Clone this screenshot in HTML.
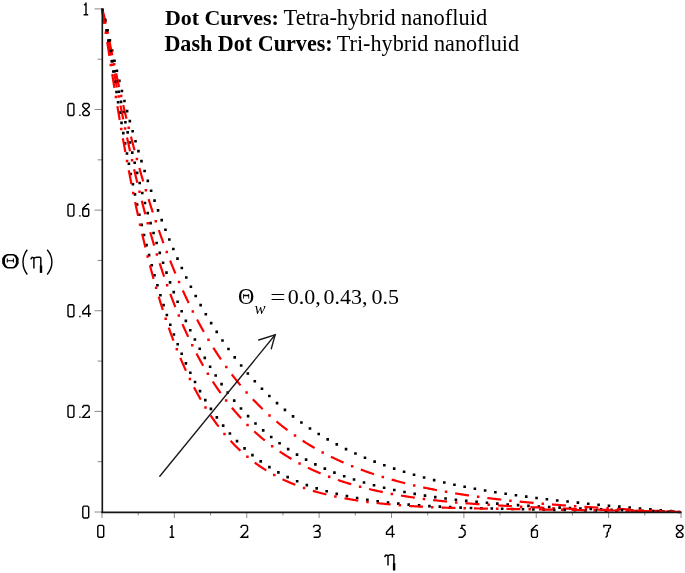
<!DOCTYPE html>
<html><head><meta charset="utf-8"><style>
html,body{margin:0;padding:0;background:#fff;}
body{width:685px;height:573px;overflow:hidden;position:relative;}
svg{position:absolute;left:0;top:0;display:block;will-change:transform;}
</style></head><body>
<svg width="685" height="573" viewBox="0 0 685 573">
<path d="M102.00,512.0V518.0M138.19,512.0V515.5M174.38,512.0V518.0M210.56,512.0V515.5M246.75,512.0V518.0M282.94,512.0V515.5M319.12,512.0V518.0M355.31,512.0V515.5M391.50,512.0V518.0M427.69,512.0V515.5M463.88,512.0V518.0M500.06,512.0V515.5M536.25,512.0V518.0M572.44,512.0V515.5M608.62,512.0V518.0M644.81,512.0V515.5M681.00,512.0V518.0M94.5,512.00H102.0M97.5,461.69H102.0M94.5,411.38H102.0M97.5,361.07H102.0M94.5,310.76H102.0M97.5,260.45H102.0M94.5,210.14H102.0M97.5,159.83H102.0M94.5,109.52H102.0M97.5,59.21H102.0M94.5,8.90H102.0" stroke="#8a8a8a" stroke-width="1" fill="none"/>
<g fill="none"><path d="M101.17,8.81h2.6v2.6h-2.6zM103.93,18.83h2.6v2.6h-2.6zM106.28,28.97h2.6v2.6h-2.6zM108.57,39.11h2.6v2.6h-2.6zM110.87,49.25h2.6v2.6h-2.6zM113.22,59.38h2.6v2.6h-2.6zM115.62,69.50h2.6v2.6h-2.6zM118.08,79.61h2.6v2.6h-2.6zM120.60,89.70h2.6v2.6h-2.6zM123.18,99.77h2.6v2.6h-2.6zM125.82,109.83h2.6v2.6h-2.6zM128.54,119.87h2.6v2.6h-2.6zM131.33,129.89h2.6v2.6h-2.6zM134.20,139.88h2.6v2.6h-2.6zM137.15,149.86h2.6v2.6h-2.6zM140.18,159.81h2.6v2.6h-2.6zM143.30,169.73h2.6v2.6h-2.6zM146.52,179.62h2.6v2.6h-2.6zM149.83,189.48h2.6v2.6h-2.6zM153.25,199.30h2.6v2.6h-2.6zM156.77,209.08h2.6v2.6h-2.6zM160.41,218.83h2.6v2.6h-2.6zM164.16,228.52h2.6v2.6h-2.6zM168.04,238.17h2.6v2.6h-2.6zM172.06,247.77h2.6v2.6h-2.6zM176.21,257.30h2.6v2.6h-2.6zM180.51,266.77h2.6v2.6h-2.6zM184.97,276.17h2.6v2.6h-2.6zM189.59,285.48h2.6v2.6h-2.6zM194.38,294.72h2.6v2.6h-2.6zM199.35,303.85h2.6v2.6h-2.6zM204.50,312.88h2.6v2.6h-2.6zM209.86,321.80h2.6v2.6h-2.6zM215.42,330.59h2.6v2.6h-2.6zM221.19,339.24h2.6v2.6h-2.6zM227.18,347.74h2.6v2.6h-2.6zM233.40,356.08h2.6v2.6h-2.6zM239.85,364.23h2.6v2.6h-2.6zM246.54,372.19h2.6v2.6h-2.6zM253.48,379.94h2.6v2.6h-2.6zM260.65,387.47h2.6v2.6h-2.6zM268.07,394.75h2.6v2.6h-2.6zM275.74,401.79h2.6v2.6h-2.6zM283.63,408.55h2.6v2.6h-2.6zM291.76,415.04h2.6v2.6h-2.6zM300.11,421.24h2.6v2.6h-2.6zM308.67,427.15h2.6v2.6h-2.6zM317.42,432.76h2.6v2.6h-2.6zM326.36,438.07h2.6v2.6h-2.6zM335.47,443.09h2.6v2.6h-2.6zM344.74,447.82h2.6v2.6h-2.6zM354.14,452.26h2.6v2.6h-2.6zM363.67,456.42h2.6v2.6h-2.6zM373.31,460.31h2.6v2.6h-2.6zM383.05,463.95h2.6v2.6h-2.6zM392.88,467.35h2.6v2.6h-2.6zM402.79,470.52h2.6v2.6h-2.6zM412.76,473.47h2.6v2.6h-2.6zM422.79,476.22h2.6v2.6h-2.6zM432.87,478.78h2.6v2.6h-2.6zM442.99,481.16h2.6v2.6h-2.6zM453.15,483.38h2.6v2.6h-2.6zM463.35,485.45h2.6v2.6h-2.6zM473.57,487.39h2.6v2.6h-2.6zM483.81,489.19h2.6v2.6h-2.6zM494.07,490.88h2.6v2.6h-2.6zM504.35,492.47h2.6v2.6h-2.6zM514.64,493.95h2.6v2.6h-2.6zM524.95,495.36h2.6v2.6h-2.6zM535.26,496.68h2.6v2.6h-2.6zM545.59,497.93h2.6v2.6h-2.6zM555.92,499.13h2.6v2.6h-2.6zM566.25,500.26h2.6v2.6h-2.6zM576.60,501.35h2.6v2.6h-2.6zM586.94,502.40h2.6v2.6h-2.6zM597.30,503.41h2.6v2.6h-2.6zM607.65,504.39h2.6v2.6h-2.6zM618.01,505.34h2.6v2.6h-2.6zM628.36,506.27h2.6v2.6h-2.6zM638.72,507.19h2.6v2.6h-2.6zM649.08,508.09h2.6v2.6h-2.6zM659.45,508.98h2.6v2.6h-2.6zM669.81,509.86h2.6v2.6h-2.6z" fill="#000" stroke="none"/><path d="M102.00,8.90 L102.37,9.83 L102.70,10.77 L102.99,11.73 L103.27,12.69 L103.53,13.66 L103.78,14.62 L104.02,15.59 L104.25,16.57 L104.48,17.54 L104.71,18.51 L104.93,19.49 L105.14,20.47 L105.36,21.44 L105.57,22.42 L105.78,23.40M109.50,41.52 L109.70,42.50 L109.90,43.48 L110.10,44.46 L110.30,45.44 L110.50,46.42 L110.70,47.40 L110.90,48.38 L111.10,49.36 L111.30,50.34 L111.50,51.32 L111.70,52.30 L111.90,53.28 L112.11,54.26 L112.31,55.24M116.13,73.34 L116.34,74.31 L116.55,75.29 L116.76,76.27 L116.98,77.25 L117.19,78.22 L117.40,79.20 L117.62,80.18 L117.83,81.15 L118.05,82.13 L118.26,83.11 L118.48,84.08 L118.69,85.06 L118.91,86.04 L119.13,87.01M123.24,105.05 L123.47,106.02 L123.70,107.00 L123.93,107.97 L124.16,108.94 L124.39,109.91 L124.62,110.89 L124.85,111.86 L125.08,112.83 L125.32,113.81 L125.55,114.78 L125.78,115.75 L126.02,116.72 L126.25,117.70 L126.49,118.67M130.96,136.62 L131.20,137.59 L131.45,138.56 L131.70,139.53 L131.95,140.49 L132.20,141.46 L132.45,142.43 L132.70,143.40 L132.96,144.36 L133.21,145.33 L133.46,146.30 L133.72,147.27 L133.97,148.23 L134.23,149.20 L134.49,150.17M139.36,168.01 L139.63,168.97 L139.91,169.94 L140.18,170.90 L140.45,171.86 L140.73,172.82 L141.00,173.78 L141.28,174.75 L141.55,175.71 L141.83,176.67 L142.11,177.63 L142.39,178.59 L142.67,179.55 L142.95,180.51 L143.23,181.47M148.59,199.18 L148.88,200.13 L149.18,201.08 L149.48,202.04 L149.78,202.99 L150.08,203.94 L150.39,204.90 L150.69,205.85 L151.00,206.80 L151.30,207.76 L151.61,208.71 L151.92,209.66 L152.22,210.61 L152.53,211.56 L152.84,212.51M158.77,230.04 L159.10,230.98 L159.43,231.92 L159.76,232.87 L160.10,233.81 L160.43,234.75 L160.77,235.69 L161.10,236.64 L161.44,237.58 L161.78,238.52 L162.12,239.46 L162.46,240.40 L162.80,241.34 L163.15,242.28 L163.49,243.22M170.09,260.50 L170.46,261.43 L170.83,262.36 L171.20,263.29 L171.57,264.21 L171.95,265.14 L172.32,266.07 L172.70,266.99 L173.08,267.92 L173.46,268.85 L173.84,269.77 L174.22,270.69 L174.60,271.62 L174.99,272.54 L175.37,273.46M182.77,290.42 L183.19,291.33 L183.60,292.24 L184.02,293.15 L184.44,294.05 L184.86,294.96 L185.29,295.87 L185.71,296.77 L186.13,297.68 L186.56,298.58 L186.99,299.48 L187.42,300.39 L187.85,301.29 L188.29,302.19 L188.72,303.09M197.09,319.59 L197.56,320.47 L198.03,321.36 L198.50,322.24 L198.97,323.12 L199.45,324.00 L199.93,324.87 L200.41,325.75 L200.89,326.63 L201.38,327.50 L201.86,328.38 L202.35,329.25 L202.84,330.12 L203.33,330.99 L203.83,331.86M213.33,347.73 L213.86,348.58 L214.40,349.42 L214.94,350.26 L215.48,351.11 L216.02,351.95 L216.57,352.78 L217.11,353.62 L217.66,354.46 L218.21,355.29 L218.77,356.12 L219.32,356.96 L219.88,357.79 L220.44,358.61 L221.00,359.44M231.83,374.44 L232.43,375.24 L233.04,376.03 L233.66,376.82 L234.27,377.61 L234.89,378.39 L235.51,379.18 L236.13,379.96 L236.76,380.74 L237.39,381.52 L238.02,382.30 L238.65,383.07 L239.28,383.84 L239.92,384.61 L240.56,385.38M252.85,399.21 L253.53,399.94 L254.22,400.66 L254.92,401.38 L255.61,402.10 L256.31,402.81 L257.01,403.52 L257.72,404.24 L258.42,404.94 L259.13,405.65 L259.84,406.35 L260.56,407.05 L261.27,407.75 L261.99,408.45 L262.71,409.14M276.50,421.47 L277.27,422.11 L278.04,422.74 L278.82,423.37 L279.59,424.01 L280.37,424.63 L281.15,425.26 L281.94,425.88 L282.72,426.50 L283.51,427.11 L284.30,427.73 L285.09,428.34 L285.89,428.94 L286.68,429.55 L287.48,430.15M302.67,440.71 L303.51,441.25 L304.35,441.79 L305.19,442.33 L306.04,442.86 L306.89,443.39 L307.74,443.91 L308.59,444.44 L309.45,444.95 L310.31,445.47 L311.16,445.98 L312.02,446.49 L312.89,447.00 L313.75,447.50 L314.62,448.00M330.94,456.71 L331.83,457.15 L332.73,457.59 L333.63,458.02 L334.53,458.45 L335.44,458.88 L336.34,459.31 L337.25,459.73 L338.16,460.15 L339.07,460.57 L339.98,460.98 L340.89,461.39 L341.80,461.80 L342.71,462.21 L343.63,462.61M360.78,469.55 L361.71,469.90 L362.65,470.25 L363.59,470.59 L364.53,470.93 L365.47,471.27 L366.41,471.60 L367.36,471.94 L368.30,472.27 L369.25,472.60 L370.19,472.92 L371.14,473.24 L372.08,473.57 L373.03,473.88 L373.98,474.20M391.67,479.61 L392.63,479.88 L393.60,480.15 L394.56,480.42 L395.52,480.68 L396.49,480.94 L397.45,481.20 L398.42,481.46 L399.39,481.72 L400.35,481.97 L401.32,482.22 L402.29,482.47 L403.26,482.72 L404.23,482.97 L405.20,483.21M423.22,487.39 L424.20,487.59 L425.18,487.80 L426.16,488.01 L427.14,488.21 L428.11,488.41 L429.09,488.61 L430.07,488.81 L431.05,489.01 L432.04,489.20 L433.02,489.40 L434.00,489.59 L434.98,489.78 L435.96,489.97 L436.94,490.16M455.16,493.37 L456.15,493.53 L457.14,493.69 L458.12,493.85 L459.11,494.00 L460.10,494.16 L461.09,494.31 L462.08,494.46 L463.06,494.62 L464.05,494.77 L465.04,494.92 L466.03,495.06 L467.02,495.21 L468.01,495.36 L469.00,495.50M487.33,497.99 L488.32,498.11 L489.32,498.23 L490.31,498.36 L491.30,498.48 L492.29,498.60 L493.29,498.72 L494.28,498.84 L495.27,498.96 L496.26,499.07 L497.26,499.19 L498.25,499.31 L499.24,499.42 L500.24,499.53 L501.23,499.65M519.63,501.59 L520.62,501.69 L521.62,501.79 L522.61,501.88 L523.61,501.98 L524.61,502.08 L525.60,502.17 L526.60,502.26 L527.59,502.36 L528.59,502.45 L529.58,502.54 L530.58,502.63 L531.58,502.72 L532.57,502.81 L533.57,502.90M552.00,504.46 L553.00,504.54 L554.00,504.62 L554.99,504.69 L555.99,504.77 L556.99,504.85 L557.98,504.93 L558.98,505.00 L559.98,505.08 L560.97,505.15 L561.97,505.23 L562.97,505.30 L563.97,505.37 L564.96,505.45 L565.96,505.52M584.42,506.80 L585.42,506.86 L586.41,506.93 L587.41,506.99 L588.41,507.06 L589.41,507.12 L590.40,507.19 L591.40,507.25 L592.40,507.31 L593.40,507.38 L594.40,507.44 L595.39,507.50 L596.39,507.56 L597.39,507.62 L598.39,507.68M616.86,508.77 L617.86,508.83 L618.85,508.88 L619.85,508.94 L620.85,508.99 L621.85,509.05 L622.85,509.10 L623.85,509.16 L624.84,509.21 L625.84,509.27 L626.84,509.32 L627.84,509.37 L628.84,509.43 L629.84,509.48 L630.84,509.54M649.31,510.49 L650.31,510.54 L651.31,510.59 L652.31,510.64 L653.31,510.69 L654.31,510.74 L655.30,510.79 L656.30,510.83 L657.30,510.88 L658.30,510.93 L659.30,510.98 L660.30,511.03 L661.30,511.08 L662.30,511.12 L663.29,511.17" stroke="#f00" stroke-width="2.2" fill="none"/><path d="M106.41,31.21h2.5v2.5h-2.5zM112.95,63.04h2.5v2.5h-2.5zM119.91,94.79h2.5v2.5h-2.5zM127.44,126.40h2.5v2.5h-2.5zM135.64,157.85h2.5v2.5h-2.5zM144.62,189.08h2.5v2.5h-2.5zM154.51,220.04h2.5v2.5h-2.5zM165.49,250.63h2.5v2.5h-2.5zM177.76,280.72h2.5v2.5h-2.5zM191.58,310.13h2.5v2.5h-2.5zM207.24,338.60h2.5v2.5h-2.5zM225.07,365.76h2.5v2.5h-2.5zM245.35,391.14h2.5v2.5h-2.5zM268.25,414.17h2.5v2.5h-2.5zM293.73,434.31h2.5v2.5h-2.5zM321.46,451.24h2.5v2.5h-2.5zM350.91,464.95h2.5v2.5h-2.5zM381.55,475.75h2.5v2.5h-2.5zM412.94,484.13h2.5v2.5h-2.5zM444.79,490.57h2.5v2.5h-2.5zM476.91,495.54h2.5v2.5h-2.5zM509.18,499.40h2.5v2.5h-2.5zM541.53,502.46h2.5v2.5h-2.5zM573.94,504.93h2.5v2.5h-2.5zM606.37,506.99h2.5v2.5h-2.5zM638.82,508.77h2.5v2.5h-2.5zM671.28,510.36h2.5v2.5h-2.5z" fill="#f00" stroke="none"/><path d="M100.97,8.87h2.6v2.6h-2.6zM103.08,19.06h2.6v2.6h-2.6zM105.16,29.24h2.6v2.6h-2.6zM107.22,39.44h2.6v2.6h-2.6zM109.28,49.63h2.6v2.6h-2.6zM111.33,59.83h2.6v2.6h-2.6zM113.40,70.02h2.6v2.6h-2.6zM115.48,80.21h2.6v2.6h-2.6zM117.59,90.40h2.6v2.6h-2.6zM119.72,100.57h2.6v2.6h-2.6zM121.88,110.75h2.6v2.6h-2.6zM124.09,120.91h2.6v2.6h-2.6zM126.33,131.06h2.6v2.6h-2.6zM128.63,141.21h2.6v2.6h-2.6zM130.97,151.34h2.6v2.6h-2.6zM133.38,161.46h2.6v2.6h-2.6zM135.84,171.56h2.6v2.6h-2.6zM138.38,181.65h2.6v2.6h-2.6zM140.98,191.72h2.6v2.6h-2.6zM143.67,201.76h2.6v2.6h-2.6zM146.44,211.79h2.6v2.6h-2.6zM149.29,221.79h2.6v2.6h-2.6zM152.25,231.76h2.6v2.6h-2.6zM155.31,241.70h2.6v2.6h-2.6zM158.48,251.60h2.6v2.6h-2.6zM161.77,261.47h2.6v2.6h-2.6zM165.19,271.29h2.6v2.6h-2.6zM168.75,281.06h2.6v2.6h-2.6zM172.45,290.78h2.6v2.6h-2.6zM176.31,300.44h2.6v2.6h-2.6zM180.35,310.02h2.6v2.6h-2.6zM184.56,319.53h2.6v2.6h-2.6zM188.97,328.95h2.6v2.6h-2.6zM193.58,338.27h2.6v2.6h-2.6zM198.42,347.48h2.6v2.6h-2.6zM203.49,356.56h2.6v2.6h-2.6zM208.82,365.49h2.6v2.6h-2.6zM214.41,374.26h2.6v2.6h-2.6zM220.28,382.84h2.6v2.6h-2.6zM226.44,391.22h2.6v2.6h-2.6zM232.91,399.37h2.6v2.6h-2.6zM239.68,407.25h2.6v2.6h-2.6zM246.78,414.86h2.6v2.6h-2.6zM254.19,422.15h2.6v2.6h-2.6zM261.91,429.11h2.6v2.6h-2.6zM269.94,435.72h2.6v2.6h-2.6zM278.26,441.96h2.6v2.6h-2.6zM286.86,447.81h2.6v2.6h-2.6zM295.71,453.28h2.6v2.6h-2.6zM304.79,458.35h2.6v2.6h-2.6zM314.07,463.04h2.6v2.6h-2.6zM323.53,467.36h2.6v2.6h-2.6zM333.14,471.32h2.6v2.6h-2.6zM342.89,474.94h2.6v2.6h-2.6zM352.75,478.25h2.6v2.6h-2.6zM362.71,481.25h2.6v2.6h-2.6zM372.74,483.99h2.6v2.6h-2.6zM382.84,486.47h2.6v2.6h-2.6zM392.99,488.73h2.6v2.6h-2.6zM403.19,490.77h2.6v2.6h-2.6zM413.42,492.62h2.6v2.6h-2.6zM423.69,494.29h2.6v2.6h-2.6zM433.98,495.80h2.6v2.6h-2.6zM444.29,497.17h2.6v2.6h-2.6zM454.61,498.41h2.6v2.6h-2.6zM464.95,499.53h2.6v2.6h-2.6zM475.30,500.56h2.6v2.6h-2.6zM485.66,501.50h2.6v2.6h-2.6zM496.02,502.35h2.6v2.6h-2.6zM506.39,503.14h2.6v2.6h-2.6zM516.77,503.86h2.6v2.6h-2.6zM527.15,504.53h2.6v2.6h-2.6zM537.53,505.16h2.6v2.6h-2.6zM547.91,505.74h2.6v2.6h-2.6zM558.30,506.28h2.6v2.6h-2.6zM568.69,506.78h2.6v2.6h-2.6zM579.08,507.25h2.6v2.6h-2.6zM589.47,507.69h2.6v2.6h-2.6zM599.86,508.10h2.6v2.6h-2.6zM610.25,508.49h2.6v2.6h-2.6zM620.64,508.87h2.6v2.6h-2.6zM631.04,509.22h2.6v2.6h-2.6zM641.43,509.56h2.6v2.6h-2.6zM651.83,509.88h2.6v2.6h-2.6zM662.22,510.20h2.6v2.6h-2.6zM672.62,510.50h2.6v2.6h-2.6z" fill="#000" stroke="none"/><path d="M102.00,8.90 L102.19,9.88 L102.38,10.86 L102.57,11.85 L102.76,12.83 L102.95,13.81 L103.14,14.79 L103.32,15.77 L103.51,16.76 L103.70,17.74 L103.89,18.72 L104.07,19.70 L104.26,20.69 L104.45,21.67 L104.63,22.65 L104.82,23.63M108.24,41.81 L108.43,42.80 L108.61,43.78 L108.80,44.76 L108.98,45.74 L109.17,46.73 L109.35,47.71 L109.53,48.69 L109.72,49.68 L109.90,50.66 L110.09,51.64 L110.27,52.62 L110.46,53.61 L110.64,54.59 L110.83,55.57M114.27,73.75 L114.46,74.73 L114.65,75.71 L114.83,76.70 L115.02,77.68 L115.21,78.66 L115.40,79.64 L115.59,80.62 L115.78,81.61 L115.97,82.59 L116.16,83.57 L116.35,84.55 L116.54,85.53 L116.73,86.52 L116.92,87.50M120.49,105.65 L120.69,106.63 L120.88,107.61 L121.08,108.59 L121.28,109.57 L121.48,110.55 L121.67,111.53 L121.87,112.51 L122.07,113.49 L122.27,114.47 L122.47,115.45 L122.67,116.43 L122.87,117.41 L123.07,118.39 L123.27,119.37M127.06,137.48 L127.27,138.46 L127.48,139.43 L127.69,140.41 L127.90,141.39 L128.11,142.37 L128.32,143.34 L128.53,144.32 L128.75,145.30 L128.96,146.27 L129.17,147.25 L129.39,148.23 L129.60,149.21 L129.81,150.18 L130.03,151.16M134.11,169.20 L134.34,170.18 L134.56,171.15 L134.79,172.12 L135.02,173.10 L135.25,174.07 L135.48,175.05 L135.71,176.02 L135.94,176.99 L136.17,177.96 L136.40,178.94 L136.63,179.91 L136.86,180.88 L137.10,181.86 L137.33,182.83M141.78,200.78 L142.03,201.75 L142.28,202.72 L142.53,203.69 L142.78,204.66 L143.03,205.63 L143.28,206.59 L143.53,207.56 L143.79,208.53 L144.04,209.50 L144.29,210.46 L144.55,211.43 L144.81,212.40 L145.06,213.36 L145.32,214.33M150.24,232.16 L150.51,233.12 L150.79,234.09 L151.07,235.05 L151.34,236.01 L151.62,236.97 L151.90,237.93 L152.18,238.89 L152.46,239.85 L152.74,240.81 L153.03,241.77 L153.31,242.73 L153.59,243.68 L153.88,244.64 L154.17,245.60M159.66,263.26 L159.97,264.22 L160.28,265.17 L160.59,266.12 L160.90,267.07 L161.21,268.02 L161.53,268.97 L161.84,269.92 L162.16,270.87 L162.48,271.81 L162.79,272.76 L163.11,273.71 L163.44,274.66 L163.76,275.60 L164.08,276.55M170.30,293.97 L170.65,294.91 L171.00,295.85 L171.35,296.78 L171.70,297.72 L172.06,298.65 L172.41,299.59 L172.77,300.52 L173.13,301.45 L173.49,302.39 L173.85,303.32 L174.22,304.25 L174.58,305.18 L174.95,306.11 L175.32,307.04M182.43,324.12 L182.83,325.03 L183.23,325.95 L183.64,326.86 L184.05,327.78 L184.45,328.69 L184.86,329.60 L185.28,330.51 L185.69,331.42 L186.11,332.33 L186.52,333.24 L186.94,334.15 L187.36,335.06 L187.79,335.96 L188.21,336.87M196.44,353.44 L196.91,354.32 L197.38,355.20 L197.85,356.09 L198.32,356.97 L198.79,357.85 L199.27,358.73 L199.75,359.61 L200.23,360.48 L200.71,361.36 L201.20,362.23 L201.69,363.10 L202.18,363.98 L202.67,364.85 L203.17,365.71M212.78,381.52 L213.33,382.36 L213.87,383.19 L214.42,384.03 L214.98,384.86 L215.53,385.69 L216.09,386.52 L216.65,387.35 L217.21,388.18 L217.78,389.00 L218.35,389.82 L218.92,390.64 L219.50,391.46 L220.08,392.28 L220.66,393.09M231.92,407.76 L232.56,408.53 L233.20,409.30 L233.84,410.06 L234.49,410.83 L235.14,411.59 L235.79,412.34 L236.45,413.10 L237.11,413.85 L237.77,414.60 L238.44,415.35 L239.10,416.09 L239.78,416.83 L240.45,417.57 L241.13,418.31M254.22,431.37 L254.96,432.04 L255.70,432.72 L256.44,433.38 L257.19,434.05 L257.94,434.71 L258.69,435.37 L259.45,436.02 L260.21,436.68 L260.97,437.32 L261.73,437.97 L262.50,438.61 L263.27,439.25 L264.04,439.88 L264.82,440.51M279.69,451.51 L280.52,452.07 L281.35,452.62 L282.19,453.17 L283.02,453.72 L283.86,454.26 L284.71,454.80 L285.55,455.33 L286.40,455.87 L287.25,456.39 L288.10,456.92 L288.95,457.44 L289.81,457.95 L290.67,458.46 L291.53,458.97M307.85,467.68 L308.75,468.12 L309.65,468.55 L310.55,468.98 L311.46,469.40 L312.37,469.82 L313.28,470.24 L314.19,470.65 L315.10,471.06 L316.01,471.46 L316.93,471.86 L317.85,472.26 L318.77,472.66 L319.69,473.05 L320.61,473.44M337.90,480.00 L338.85,480.32 L339.80,480.64 L340.74,480.96 L341.69,481.27 L342.64,481.58 L343.60,481.89 L344.55,482.19 L345.50,482.50 L346.46,482.79 L347.41,483.09 L348.37,483.38 L349.32,483.67 L350.28,483.96 L351.24,484.25M369.11,489.03 L370.08,489.27 L371.05,489.50 L372.03,489.73 L373.00,489.96 L373.97,490.18 L374.95,490.40 L375.92,490.62 L376.90,490.84 L377.88,491.06 L378.85,491.27 L379.83,491.48 L380.81,491.69 L381.79,491.90 L382.77,492.11M400.94,495.54 L401.93,495.71 L402.92,495.87 L403.90,496.03 L404.89,496.19 L405.88,496.35 L406.86,496.51 L407.85,496.66 L408.84,496.82 L409.83,496.97 L410.82,497.12 L411.81,497.27 L412.80,497.41 L413.79,497.56 L414.78,497.70M433.12,500.07 L434.12,500.19 L435.11,500.30 L436.10,500.41 L437.10,500.52 L438.09,500.63 L439.08,500.74 L440.08,500.85 L441.07,500.95 L442.07,501.06 L443.06,501.16 L444.06,501.26 L445.05,501.36 L446.05,501.46 L447.04,501.56M465.47,503.20 L466.47,503.28 L467.46,503.36 L468.46,503.44 L469.46,503.52 L470.45,503.59 L471.45,503.67 L472.45,503.74 L473.45,503.82 L474.44,503.89 L475.44,503.97 L476.44,504.04 L477.43,504.11 L478.43,504.18 L479.43,504.25M497.89,505.43 L498.89,505.49 L499.89,505.54 L500.89,505.60 L501.89,505.66 L502.88,505.72 L503.88,505.77 L504.88,505.83 L505.88,505.88 L506.88,505.94 L507.88,505.99 L508.87,506.05 L509.87,506.10 L510.87,506.15 L511.87,506.21M530.35,507.13 L531.35,507.18 L532.35,507.23 L533.34,507.27 L534.34,507.32 L535.34,507.37 L536.34,507.41 L537.34,507.46 L538.34,507.50 L539.34,507.55 L540.34,507.59 L541.34,507.64 L542.33,507.68 L543.33,507.73 L544.33,507.77M562.82,508.52 L563.82,508.56 L564.82,508.60 L565.82,508.64 L566.81,508.67 L567.81,508.71 L568.81,508.75 L569.81,508.78 L570.81,508.82 L571.81,508.85 L572.81,508.89 L573.81,508.93 L574.81,508.96 L575.81,509.00 L576.81,509.03M595.30,509.64 L596.30,509.67 L597.30,509.70 L598.30,509.73 L599.30,509.76 L600.30,509.79 L601.30,509.82 L602.29,509.85 L603.29,509.88 L604.29,509.91 L605.29,509.94 L606.29,509.97 L607.29,510.00 L608.29,510.03 L609.29,510.06M627.78,510.59 L628.78,510.61 L629.78,510.64 L630.78,510.67 L631.78,510.70 L632.78,510.72 L633.78,510.75 L634.78,510.78 L635.78,510.80 L636.78,510.83 L637.78,510.86 L638.78,510.89 L639.78,510.91 L640.78,510.94 L641.78,510.97M660.27,511.45 L661.27,511.48 L662.27,511.51 L663.27,511.53 L664.27,511.56 L665.27,511.59 L666.27,511.61 L667.27,511.64 L668.27,511.66 L669.27,511.69 L670.27,511.72 L671.27,511.74 L672.27,511.77 L673.27,511.80 L674.27,511.82" stroke="#f00" stroke-width="2.2" fill="none"/><path d="M105.29,31.47h2.5v2.5h-2.5zM111.29,63.41h2.5v2.5h-2.5zM117.44,95.32h2.5v2.5h-2.5zM123.90,127.18h2.5v2.5h-2.5zM130.80,158.94h2.5v2.5h-2.5zM138.28,190.56h2.5v2.5h-2.5zM146.49,222.01h2.5v2.5h-2.5zM155.62,253.20h2.5v2.5h-2.5zM165.88,284.03h2.5v2.5h-2.5zM177.55,314.36h2.5v2.5h-2.5zM190.99,343.95h2.5v2.5h-2.5zM206.62,372.43h2.5v2.5h-2.5zM224.91,399.27h2.5v2.5h-2.5zM246.29,423.72h2.5v2.5h-2.5zM270.89,444.92h2.5v2.5h-2.5zM298.35,462.24h2.5v2.5h-2.5zM327.95,475.61h2.5v2.5h-2.5zM358.89,485.50h2.5v2.5h-2.5zM390.59,492.66h2.5v2.5h-2.5zM422.69,497.70h2.5v2.5h-2.5zM455.00,501.17h2.5v2.5h-2.5zM487.41,503.61h2.5v2.5h-2.5zM519.86,505.43h2.5v2.5h-2.5zM552.32,506.91h2.5v2.5h-2.5zM584.80,508.09h2.5v2.5h-2.5zM617.29,509.08h2.5v2.5h-2.5zM649.78,509.96h2.5v2.5h-2.5z" fill="#f00" stroke="none"/><path d="M101.25,8.77h2.6v2.6h-2.6zM103.76,18.86h2.6v2.6h-2.6zM105.59,29.09h2.6v2.6h-2.6zM107.24,39.36h2.6v2.6h-2.6zM108.83,49.64h2.6v2.6h-2.6zM110.41,59.92h2.6v2.6h-2.6zM111.98,70.20h2.6v2.6h-2.6zM113.57,80.48h2.6v2.6h-2.6zM115.18,90.75h2.6v2.6h-2.6zM116.82,101.02h2.6v2.6h-2.6zM118.51,111.29h2.6v2.6h-2.6zM120.23,121.54h2.6v2.6h-2.6zM121.99,131.79h2.6v2.6h-2.6zM123.80,142.03h2.6v2.6h-2.6zM125.66,152.26h2.6v2.6h-2.6zM127.58,162.49h2.6v2.6h-2.6zM129.55,172.70h2.6v2.6h-2.6zM131.58,182.90h2.6v2.6h-2.6zM133.67,193.09h2.6v2.6h-2.6zM135.83,203.26h2.6v2.6h-2.6zM138.06,213.42h2.6v2.6h-2.6zM140.37,223.56h2.6v2.6h-2.6zM142.76,233.68h2.6v2.6h-2.6zM145.23,243.78h2.6v2.6h-2.6zM147.80,253.86h2.6v2.6h-2.6zM150.46,263.91h2.6v2.6h-2.6zM153.23,273.94h2.6v2.6h-2.6zM156.12,283.93h2.6v2.6h-2.6zM159.12,293.88h2.6v2.6h-2.6zM162.26,303.80h2.6v2.6h-2.6zM165.55,313.67h2.6v2.6h-2.6zM168.99,323.48h2.6v2.6h-2.6zM172.60,333.23h2.6v2.6h-2.6zM176.39,342.92h2.6v2.6h-2.6zM180.38,352.52h2.6v2.6h-2.6zM184.58,362.03h2.6v2.6h-2.6zM189.03,371.44h2.6v2.6h-2.6zM193.73,380.71h2.6v2.6h-2.6zM198.71,389.84h2.6v2.6h-2.6zM203.99,398.80h2.6v2.6h-2.6zM209.60,407.56h2.6v2.6h-2.6zM215.55,416.08h2.6v2.6h-2.6zM221.88,424.33h2.6v2.6h-2.6zM228.60,432.27h2.6v2.6h-2.6zM235.72,439.86h2.6v2.6h-2.6zM243.24,447.04h2.6v2.6h-2.6zM251.15,453.78h2.6v2.6h-2.6zM259.45,460.04h2.6v2.6h-2.6zM268.11,465.80h2.6v2.6h-2.6zM277.09,471.05h2.6v2.6h-2.6zM286.35,475.78h2.6v2.6h-2.6zM295.84,480.02h2.6v2.6h-2.6zM305.54,483.78h2.6v2.6h-2.6zM315.39,487.10h2.6v2.6h-2.6zM325.37,490.02h2.6v2.6h-2.6zM335.45,492.58h2.6v2.6h-2.6zM345.61,494.81h2.6v2.6h-2.6zM355.83,496.76h2.6v2.6h-2.6zM366.09,498.46h2.6v2.6h-2.6zM376.38,499.93h2.6v2.6h-2.6zM386.70,501.22h2.6v2.6h-2.6zM397.04,502.34h2.6v2.6h-2.6zM407.40,503.29h2.6v2.6h-2.6zM417.77,504.10h2.6v2.6h-2.6zM428.14,504.79h2.6v2.6h-2.6zM438.53,505.37h2.6v2.6h-2.6zM448.92,505.87h2.6v2.6h-2.6zM459.31,506.30h2.6v2.6h-2.6zM469.70,506.66h2.6v2.6h-2.6zM480.10,506.98h2.6v2.6h-2.6zM490.49,507.25h2.6v2.6h-2.6zM500.89,507.50h2.6v2.6h-2.6zM511.29,507.73h2.6v2.6h-2.6zM521.68,507.95h2.6v2.6h-2.6zM532.08,508.16h2.6v2.6h-2.6zM542.48,508.37h2.6v2.6h-2.6zM552.88,508.57h2.6v2.6h-2.6zM563.28,508.75h2.6v2.6h-2.6zM573.67,508.92h2.6v2.6h-2.6zM584.07,509.09h2.6v2.6h-2.6zM594.47,509.25h2.6v2.6h-2.6zM604.87,509.40h2.6v2.6h-2.6zM615.27,509.56h2.6v2.6h-2.6zM625.67,509.72h2.6v2.6h-2.6zM636.07,509.89h2.6v2.6h-2.6zM646.47,510.06h2.6v2.6h-2.6zM656.86,510.25h2.6v2.6h-2.6zM667.26,510.44h2.6v2.6h-2.6zM677.66,510.66h2.6v2.6h-2.6z" fill="#000" stroke="none"/><path d="M102.00,8.90 L102.16,9.89 L102.32,10.87 L102.48,11.86 L102.63,12.85 L102.79,13.84 L102.95,14.82 L103.11,15.81 L103.26,16.80 L103.42,17.79 L103.57,18.78 L103.73,19.76 L103.89,20.75 L104.04,21.74 L104.20,22.73 L104.35,23.71M107.20,41.99 L107.35,42.98 L107.51,43.97 L107.66,44.96 L107.81,45.95 L107.97,46.93 L108.12,47.92 L108.27,48.91 L108.43,49.90 L108.58,50.89 L108.74,51.88 L108.89,52.86 L109.04,53.85 L109.20,54.84 L109.35,55.83M112.22,74.10 L112.37,75.09 L112.53,76.08 L112.69,77.07 L112.84,78.06 L113.00,79.04 L113.16,80.03 L113.31,81.02 L113.47,82.01 L113.63,82.99 L113.79,83.98 L113.94,84.97 L114.10,85.96 L114.26,86.94 L114.42,87.93M117.40,106.19 L117.56,107.17 L117.73,108.16 L117.89,109.15 L118.06,110.13 L118.22,111.12 L118.39,112.11 L118.55,113.09 L118.72,114.08 L118.88,115.07 L119.05,116.05 L119.21,117.04 L119.38,118.02 L119.55,119.01 L119.72,120.00M122.88,138.22 L123.05,139.21 L123.22,140.19 L123.40,141.18 L123.58,142.16 L123.75,143.15 L123.93,144.13 L124.10,145.11 L124.28,146.10 L124.46,147.08 L124.64,148.07 L124.81,149.05 L124.99,150.04 L125.17,151.02 L125.35,152.00M128.75,170.19 L128.94,171.17 L129.13,172.15 L129.32,173.13 L129.51,174.12 L129.70,175.10 L129.89,176.08 L130.08,177.06 L130.27,178.04 L130.46,179.02 L130.65,180.00 L130.85,180.99 L131.04,181.97 L131.24,182.95 L131.43,183.93M135.13,202.05 L135.34,203.03 L135.54,204.01 L135.75,204.99 L135.96,205.97 L136.17,206.95 L136.37,207.92 L136.58,208.90 L136.79,209.88 L137.00,210.86 L137.22,211.84 L137.43,212.81 L137.64,213.79 L137.85,214.77 L138.07,215.74M142.14,233.79 L142.37,234.76 L142.60,235.74 L142.83,236.71 L143.06,237.68 L143.29,238.66 L143.52,239.63 L143.75,240.60 L143.98,241.57 L144.21,242.55 L144.45,243.52 L144.68,244.49 L144.92,245.46 L145.15,246.44 L145.39,247.41M149.93,265.34 L150.19,266.31 L150.44,267.27 L150.70,268.24 L150.95,269.21 L151.21,270.17 L151.47,271.14 L151.73,272.11 L151.99,273.07 L152.25,274.04 L152.51,275.00 L152.78,275.97 L153.04,276.93 L153.31,277.89 L153.58,278.86M158.70,296.63 L158.99,297.59 L159.28,298.55 L159.57,299.51 L159.86,300.46 L160.15,301.42 L160.44,302.38 L160.74,303.33 L161.03,304.29 L161.33,305.24 L161.63,306.19 L161.93,307.15 L162.23,308.10 L162.53,309.06 L162.84,310.01M168.70,327.55 L169.04,328.50 L169.37,329.44 L169.70,330.38 L170.04,331.32 L170.38,332.27 L170.71,333.21 L171.06,334.15 L171.40,335.09 L171.74,336.02 L172.09,336.96 L172.43,337.90 L172.78,338.84 L173.13,339.78 L173.48,340.71M180.32,357.90 L180.70,358.82 L181.09,359.74 L181.49,360.67 L181.88,361.58 L182.28,362.50 L182.67,363.42 L183.07,364.34 L183.48,365.25 L183.88,366.17 L184.29,367.08 L184.69,367.99 L185.10,368.90 L185.52,369.82 L185.93,370.73M194.04,387.35 L194.50,388.24 L194.97,389.13 L195.43,390.01 L195.90,390.89 L196.38,391.77 L196.85,392.65 L197.33,393.53 L197.81,394.41 L198.30,395.28 L198.79,396.15 L199.28,397.03 L199.77,397.90 L200.26,398.76 L200.76,399.63M210.54,415.33 L211.10,416.16 L211.67,416.98 L212.24,417.81 L212.81,418.63 L213.38,419.45 L213.96,420.26 L214.54,421.08 L215.12,421.89 L215.71,422.70 L216.30,423.50 L216.90,424.31 L217.50,425.11 L218.10,425.91 L218.71,426.70M230.60,440.86 L231.28,441.60 L231.97,442.32 L232.65,443.05 L233.35,443.77 L234.04,444.49 L234.74,445.20 L235.45,445.91 L236.15,446.62 L236.87,447.32 L237.58,448.02 L238.30,448.71 L239.03,449.40 L239.75,450.09 L240.49,450.77M254.71,462.58 L255.52,463.17 L256.33,463.76 L257.14,464.34 L257.96,464.92 L258.78,465.49 L259.60,466.06 L260.43,466.63 L261.26,467.18 L262.09,467.74 L262.93,468.28 L263.77,468.83 L264.61,469.37 L265.45,469.90 L266.30,470.43M282.54,479.27 L283.45,479.70 L284.35,480.13 L285.26,480.55 L286.17,480.96 L287.08,481.37 L288.00,481.77 L288.91,482.17 L289.83,482.57 L290.75,482.96 L291.67,483.35 L292.60,483.73 L293.52,484.10 L294.45,484.47 L295.38,484.84M312.88,490.84 L313.84,491.13 L314.80,491.41 L315.76,491.68 L316.72,491.96 L317.68,492.23 L318.65,492.49 L319.61,492.75 L320.58,493.01 L321.54,493.27 L322.51,493.52 L323.48,493.77 L324.45,494.01 L325.42,494.25 L326.39,494.49M344.49,498.33 L345.47,498.51 L346.46,498.68 L347.44,498.86 L348.42,499.03 L349.41,499.20 L350.40,499.37 L351.38,499.53 L352.37,499.70 L353.36,499.86 L354.34,500.01 L355.33,500.17 L356.32,500.32 L357.31,500.48 L358.30,500.62M376.64,503.03 L377.63,503.14 L378.63,503.25 L379.62,503.36 L380.61,503.47 L381.61,503.57 L382.60,503.68 L383.60,503.78 L384.59,503.88 L385.59,503.98 L386.58,504.08 L387.58,504.18 L388.57,504.28 L389.57,504.37 L390.57,504.46M409.01,505.93 L410.00,506.00 L411.00,506.06 L412.00,506.12 L413.00,506.19 L414.00,506.25 L414.99,506.31 L415.99,506.37 L416.99,506.43 L417.99,506.48 L418.99,506.54 L419.99,506.59 L420.98,506.65 L421.98,506.70 L422.98,506.75M441.46,507.55 L442.46,507.59 L443.46,507.63 L444.46,507.66 L445.46,507.69 L446.46,507.73 L447.46,507.76 L448.46,507.79 L449.46,507.82 L450.46,507.85 L451.46,507.88 L452.46,507.91 L453.46,507.94 L454.46,507.97 L455.46,508.00M473.95,508.43 L474.95,508.45 L475.95,508.47 L476.95,508.49 L477.95,508.51 L478.95,508.52 L479.95,508.54 L480.95,508.56 L481.95,508.58 L482.95,508.60 L483.95,508.61 L484.95,508.63 L485.95,508.65 L486.95,508.66 L487.95,508.68M506.45,508.96 L507.45,508.97 L508.45,508.99 L509.45,509.00 L510.45,509.01 L511.45,509.03 L512.45,509.04 L513.45,509.06 L514.45,509.07 L515.45,509.08 L516.45,509.10 L517.45,509.11 L518.45,509.13 L519.45,509.14 L520.45,509.15M538.94,509.43 L539.94,509.45 L540.94,509.47 L541.94,509.48 L542.94,509.50 L543.94,509.51 L544.94,509.53 L545.94,509.54 L546.94,509.56 L547.94,509.57 L548.94,509.59 L549.94,509.60 L550.94,509.61 L551.94,509.63 L552.94,509.64M571.44,509.90 L572.44,509.92 L573.44,509.93 L574.44,509.94 L575.44,509.96 L576.44,509.97 L577.44,509.98 L578.44,510.00 L579.44,510.01 L580.44,510.02 L581.44,510.04 L582.44,510.05 L583.44,510.07 L584.44,510.08 L585.44,510.09M603.94,510.35 L604.94,510.37 L605.94,510.38 L606.94,510.40 L607.94,510.41 L608.94,510.43 L609.94,510.44 L610.94,510.46 L611.94,510.47 L612.94,510.49 L613.94,510.50 L614.94,510.52 L615.94,510.53 L616.94,510.55 L617.94,510.56M636.43,510.88 L637.43,510.90 L638.43,510.92 L639.43,510.94 L640.43,510.96 L641.43,510.98 L642.43,511.00 L643.43,511.02 L644.43,511.04 L645.43,511.06 L646.43,511.08 L647.43,511.10 L648.43,511.12 L649.43,511.14 L650.43,511.17M668.93,511.63 L669.93,511.66 L670.94,511.68 L671.94,511.71 L672.95,511.74 L673.96,511.77 L674.96,511.81 L675.97,511.84 L676.98,511.87 L677.98,511.90 L678.99,511.93 L679.99,511.97 L681.00,512.00" stroke="#f00" stroke-width="2.2" fill="none"/><path d="M104.53,31.60h2.5v2.5h-2.5zM109.53,63.72h2.5v2.5h-2.5zM114.65,95.81h2.5v2.5h-2.5zM120.03,127.86h2.5v2.5h-2.5zM125.78,159.85h2.5v2.5h-2.5zM132.01,191.75h2.5v2.5h-2.5zM138.82,223.52h2.5v2.5h-2.5zM146.38,255.13h2.5v2.5h-2.5zM154.84,286.51h2.5v2.5h-2.5zM164.46,317.55h2.5v2.5h-2.5zM175.57,348.09h2.5v2.5h-2.5zM188.63,377.84h2.5v2.5h-2.5zM204.27,406.31h2.5v2.5h-2.5zM223.24,432.67h2.5v2.5h-2.5zM246.19,455.62h2.5v2.5h-2.5zM273.05,473.82h2.5v2.5h-2.5zM302.82,486.77h2.5v2.5h-2.5zM334.16,495.28h2.5v2.5h-2.5zM366.21,500.66h2.5v2.5h-2.5zM398.53,504.01h2.5v2.5h-2.5zM430.97,505.94h2.5v2.5h-2.5zM463.45,506.98h2.5v2.5h-2.5zM495.95,507.57h2.5v2.5h-2.5zM528.45,508.04h2.5v2.5h-2.5zM560.94,508.52h2.5v2.5h-2.5zM593.44,508.97h2.5v2.5h-2.5zM625.94,509.47h2.5v2.5h-2.5zM658.43,510.13h2.5v2.5h-2.5z" fill="#f00" stroke="none"/></g>
<line x1="102.3" y1="8.4" x2="102.3" y2="513.1" stroke="#151515" stroke-width="1.65"/>
<line x1="101.5" y1="512.3" x2="681.6" y2="512.3" stroke="#151515" stroke-width="1.65"/>
<g fill="none" stroke="#000" stroke-width="1.4" stroke-linejoin="miter"><path transform="translate(97.8,525.4)" d="M1.1,0H4.8L5.9,1.1V10.8L4.8,11.9H1.1L0,10.8V1.1Z"/><path transform="translate(169.6,525.4)" d="M2.4,-0.4V11.9M0,11.9H4.6M0.5,2.4L2.2,0.9"/><path transform="translate(241.2,525.4)" d="M0,2.5V1.2L1.2,0H5.1L6.3,1.2V5.1L5.0,6.4L0,11.9H6.5V10.2"/><path transform="translate(313.6,525.4)" d="M0,2.1V1.2L1.2,0H5.1L6.4,1.3V3.3L4.6,5.0L3.0,5.9H5.0L6.4,7.3V10.6L5.0,11.9H0"/><path transform="translate(386.5,525.4)" d="M5.9,-0.2V12.2M5.5,0.6L0,6.8V9.0H8.3"/><path transform="translate(458.5,525.4)" d="M7.1,0H3.4V3.0M1.6,3.0H4.0L6.6,5.6V9.2L3.9,11.9H0"/><path transform="translate(531.5,525.4)" d="M6.3,0H4.5L0,4.4V10.9L1.1,12.0H4.8L5.9,10.9V5.6L4.8,4.5H2.0L0,6.0"/><path transform="translate(603.9,525.4)" d="M0,2.0V0H6.5V2.0L4.7,3.6V5.9L3.3,7.3V10.6L1.6,12.1"/><path transform="translate(676.5,525.4)" d="M1.3,0H5.1L6.4,1.2V3.0L1.5,7.6L0,9.0V10.7L1.2,11.9H5.2L6.4,10.7V9.0L4.9,7.6L0,3.0V1.2Z"/><path transform="translate(68.0,405.43)" d="M1.1,0H4.8L5.9,1.1V10.8L4.8,11.9H1.1L0,10.8V1.1Z"/><path transform="translate(82.8,405.43)" d="M0,2.5V1.2L1.2,0H5.1L6.3,1.2V5.1L5.0,6.4L0,11.9H6.5V10.2"/><path transform="translate(68.0,304.81)" d="M1.1,0H4.8L5.9,1.1V10.8L4.8,11.9H1.1L0,10.8V1.1Z"/><path transform="translate(82.8,304.81)" d="M5.9,-0.2V12.2M5.5,0.6L0,6.8V9.0H8.3"/><path transform="translate(68.0,204.18999999999994)" d="M1.1,0H4.8L5.9,1.1V10.8L4.8,11.9H1.1L0,10.8V1.1Z"/><path transform="translate(82.8,204.18999999999994)" d="M6.3,0H4.5L0,4.4V10.9L1.1,12.0H4.8L5.9,10.9V5.6L4.8,4.5H2.0L0,6.0"/><path transform="translate(68.0,103.56999999999998)" d="M1.1,0H4.8L5.9,1.1V10.8L4.8,11.9H1.1L0,10.8V1.1Z"/><path transform="translate(82.8,103.56999999999998)" d="M1.3,0H5.1L6.4,1.2V3.0L1.5,7.6L0,9.0V10.7L1.2,11.9H5.2L6.4,10.7V9.0L4.9,7.6L0,3.0V1.2Z"/><path transform="translate(82.8,506.1)" d="M1.1,0H4.8L5.9,1.1V10.8L4.8,11.9H1.1L0,10.8V1.1Z"/><path transform="translate(83.6,2.9)" d="M2.4,-0.4V11.9M0,11.9H4.6M0.5,2.4L2.2,0.9"/></g><g fill="#000"><rect x="79.20" y="416.43" width="1.4" height="1.4"/><rect x="79.20" y="315.81" width="1.4" height="1.4"/><rect x="79.20" y="215.19" width="1.4" height="1.4"/><rect x="79.20" y="114.57" width="1.4" height="1.4"/></g>
<g fill="none" stroke="#1a1a1a" stroke-width="1.35" stroke-linecap="round">
<line x1="159.8" y1="476.3" x2="275.2" y2="334.8"/>
<polyline points="258.7,340 275.2,334.8 271.3,348.8" stroke-linejoin="miter"/>
</g>
<g font-family="Liberation Serif, serif" font-size="22.3" fill="#000">
<text x="164.9" y="25.4" font-weight="bold" font-size="21.93">Dot Curves:</text>
<text x="283.6" y="25.4" font-size="22.46">Tetra-hybrid nanofluid</text>
<text x="164.4" y="50.7" font-weight="bold" font-size="22.11">Dash Dot Curves:</text>
<text x="336.8" y="50.7" font-size="22.2">Tri-hybrid nanofluid</text>
</g>
<g font-family="Liberation Serif, serif" fill="#000">
<text x="238" y="304.2" font-size="22.6">&#920;</text>
<text x="254.5" y="314.1" font-size="16.5" font-style="italic">w</text>

<path d="M271.6,294.4H284.2M271.6,299.5H284.2" stroke="#000" stroke-width="1.05"/>
<text x="287.8" y="304.2" font-size="22">0.0,</text><text x="323.5" y="304.2" font-size="22">0.43,</text><text x="371.4" y="304.2" font-size="22">0.5</text>
</g>
<!-- y-axis label Theta(eta) -->
<path fill="#000" fill-rule="evenodd" d="M7.3,253.9H13.6L16.4,255.2L18.6,258.2V263.6L16.4,266.9L13.6,268.6H7.3L4.4,266.9L2.2,263.6V258.2L4.4,255.2Z M7.7,255.6H13.2L15.0,256.9L15.9,259.0V262.9L15.0,265.2L13.2,266.9H7.7L5.9,265.2L5.0,262.9V259.0L5.9,256.9Z"/>
<g fill="none" stroke="#000">
<path d="M7.4,260.7H13.5" stroke-width="1.1"/>
<path d="M7.3,258.6V262.6M13.4,258.6V262.6" stroke-width="1.1"/>
</g>
<path fill="none" stroke="#000" stroke-width="1.4" d="M27.3,249.7C24.3,253.3 23.0,257.8 23.0,262.1C23.0,266.4 24.3,270.9 27.3,274.5"/>
<path fill="none" stroke="#000" stroke-width="1.4" d="M47.2,249.7C50.3,253.3 51.9,257.8 51.9,262.1C51.9,266.4 50.3,270.9 47.2,274.5"/>
<g transform="translate(30.5,256.9)"><path d="M0.2,2.5L1.6,0.5L3.4,1.0V11.6M3.4,1.6Q4.6,0.3 6.199999999999999,0.3H9.4L10.3,1.1V9" fill="none" stroke="#000" stroke-width="1.45"/><rect x="9.3" y="8.6" width="2.4" height="7.4" fill="#000"/></g>
<g transform="translate(384.3,554.5)"><path d="M0.2,2.5L1.6,0.5L3.7,1.0V11.0M3.7,1.6Q4.9,0.3 6.5,0.3H8.7L9.6,1.1V9" fill="none" stroke="#000" stroke-width="1.45"/><rect x="8.6" y="8.6" width="2.4" height="7.4" fill="#000"/></g>
</svg>
</body></html>
